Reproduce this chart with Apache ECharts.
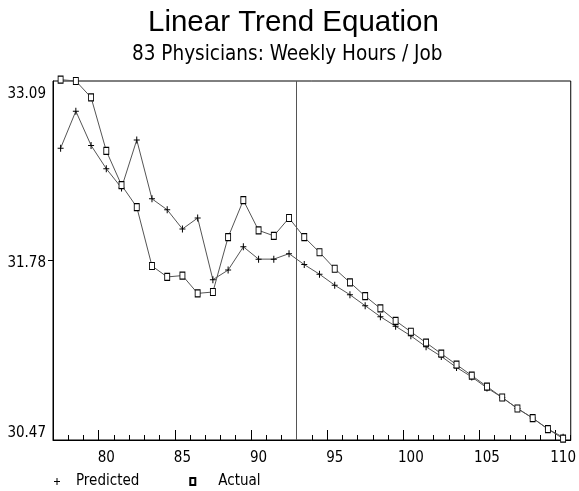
<!DOCTYPE html>
<html>
<head>
<meta charset="utf-8">
<script src="https://cdn.jsdelivr.net/npm/echarts@6/dist/echarts.min.js"></script>
<style>
html,body{margin:0;padding:0;background:#fff;}
#chart{width:579px;height:491px;}
</style>
</head>
<body>
<div id="chart"></div>
<script>
const categories = [77, 78, 79, 80, 81, 82, 83, 84, 85, 86, 87, 88, 89, 90, 91, 92, 93, 94, 95, 96, 97, 98, 99, 100, 101, 102, 103, 104, 105, 106, 107, 108, 109, 110];
const predicted = [32.60, 32.87, 32.62, 32.45, 32.31, 32.66, 32.23, 32.15, 32.01, 32.09, 31.64, 31.71, 31.88, 31.79, 31.79, 31.83, 31.75, 31.68, 31.60, 31.53, 31.45, 31.37, 31.30, 31.23, 31.15, 31.08, 31.00, 30.93, 30.85, 30.78, 30.70, 30.63, 30.55, 30.49];
const actual = [33.10, 33.09, 32.97, 32.58, 32.33, 32.17, 31.74, 31.66, 31.67, 31.54, 31.55, 31.95, 32.22, 32.00, 31.96, 32.09, 31.95, 31.84, 31.72, 31.62, 31.52, 31.43, 31.34, 31.26, 31.18, 31.10, 31.02, 30.94, 30.86, 30.78, 30.70, 30.63, 30.55, 30.48];
const yTickLabels = [30.47, 31.78, 33.09];
const xTickLabels = [80, 85, 90, 95, 100, 105, 110];
const minorTicks = [76.5, 77.5, 78.5, 79.5, 80.5, 81.5, 82.5, 83.5, 84.5, 85.5, 86.5, 87.5, 88.5, 89.5, 90.5, 91.5, 92.5, 93.5, 94.5, 95.5, 96.5, 97.5, 98.5, 99.5, 100.5, 101.5, 102.5, 103.5, 104.5, 105.5, 106.5, 107.5, 108.5, 109.5, 110.5];
const majorTicks = [79.5, 84.5, 89.5, 94.5, 99.5, 104.5, 109.5];
const dividerX = 92.5;

const labelFont = '"DejaVu Sans Condensed", "Liberation Sans Narrow", "DejaVu Sans", sans-serif';
const plusPath = 'path://M2.5,0h1v3h2.5v1h-2.5v3h-1v-3h-2.5v-1h2.5z';
const plusLegend = 'path://M0,3.5M8.5,0h1v3h2.5v1h-2.5v3h-1v-3h-2.5v-1h2.5zM23,3.5';
const rectLegend = 'path://M0,0h5v7h-5zM23,3.5';

const chart = echarts.init(document.getElementById('chart'));
chart.setOption({
  animation: false,
  backgroundColor: '#fff',
  title: [
    { text: 'Linear Trend Equation', left: 148, top: 8, padding: 0,
      textStyle: { fontFamily: '"Liberation Sans", Arial, sans-serif', fontSize: 29.5, fontWeight: 'normal', color: '#000' } },
    { text: '83 Physicians: Weekly Hours / Job', left: 132, top: 44.5, padding: 0,
      textStyle: { fontFamily: labelFont, fontSize: 20.5, fontWeight: 'normal', color: '#000' } }
  ],
  legend: {
    left: 48, top: 474, padding: 0, itemWidth: 23, itemHeight: 7, itemGap: 50,
    textStyle: { fontFamily: labelFont, fontSize: 15, color: '#000' },
    data: [
      { name: 'Predicted', icon: plusLegend },
      { name: 'Actual', icon: rectLegend }
    ]
  },
  grid: { left: 53, right: 4, top: 81, bottom: 51, show: true, borderColor: '#000', borderWidth: 1, containLabel: false },
  xAxis: [
    { type: 'value', min: 76.5, max: 110.5, position: 'bottom',
      axisLine: { show: true, lineStyle: { color: '#000', width: 1 } },
      axisTick: { show: true, inside: true, length: 5, customValues: minorTicks, lineStyle: { color: '#000' } },
      axisLabel: { customValues: xTickLabels, margin: 11, fontFamily: labelFont, fontSize: 15, color: '#000' },
      splitLine: { show: false } },
    { type: 'value', min: 76.5, max: 110.5, position: 'bottom',
      axisLine: { show: false },
      axisTick: { show: true, inside: true, length: 10, customValues: majorTicks, lineStyle: { color: '#000' } },
      axisLabel: { show: false },
      splitLine: { show: false } }
  ],
  yAxis: {
    type: 'value', min: 30.47, max: 33.09,
    axisLine: { show: true, lineStyle: { color: '#000', width: 1 } },
    axisTick: { show: true, inside: false, length: 5, customValues: [31.78], lineStyle: { color: '#000' } },
    axisLabel: {
      customValues: yTickLabels, margin: 7, fontFamily: labelFont, fontSize: 15, color: '#000',
      formatter: function (v) {
        const s = v.toFixed(2);
        if (Math.abs(v - 33.09) < 1e-6) return '{t|' + s + '}';
        if (Math.abs(v - 30.47) < 1e-6) return '{b|' + s + '}';
        return '{m|' + s + '}';
      },
      rich: {
        t: { fontFamily: labelFont, fontSize: 15, color: '#000', padding: [27, 0, 0, 0] },
        m: { fontFamily: labelFont, fontSize: 15, color: '#000', padding: [6, 0, 0, 0] },
        b: { fontFamily: labelFont, fontSize: 15, color: '#000', padding: [0, 0, 13, 0] }
      }
    },
    splitLine: { show: false }
  },
  series: [
    { name: 'Predicted', type: 'line', xAxisIndex: 0, clip: false,
      data: categories.map((c, i) => [c, predicted[i]]),
      symbol: plusPath, symbolSize: [6, 7], showAllSymbol: true,
      itemStyle: { color: '#000', borderWidth: 0 },
      lineStyle: { color: '#555', width: 1 },
      markLine: { silent: true, symbol: ['none', 'none'], label: { show: false },
        lineStyle: { color: '#555', width: 1, type: 'solid' },
        data: [{ xAxis: dividerX }] },
      z: 3 },
    { name: 'Actual', type: 'line', xAxisIndex: 0, clip: false,
      data: categories.map((c, i) => [c, actual[i]]),
      symbol: 'rect', symbolSize: [5, 7], showAllSymbol: true,
      itemStyle: { color: '#fff', borderColor: '#000', borderWidth: 1 },
      lineStyle: { color: '#555', width: 1 },
      z: 4 }
  ]
});
</script>
</body>
</html>
